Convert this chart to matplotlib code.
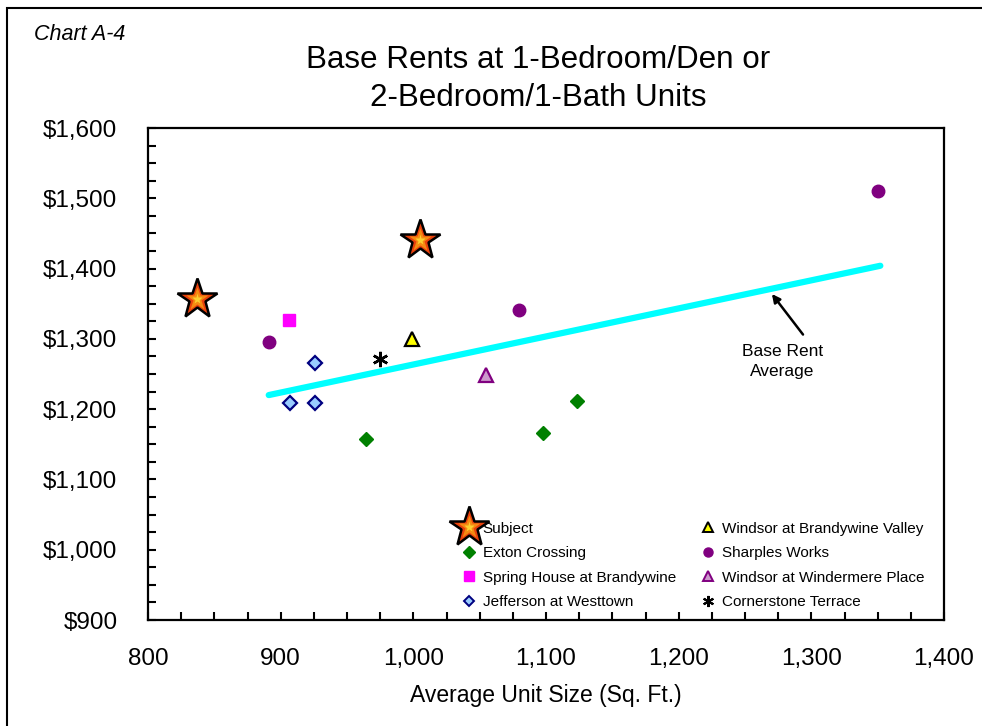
import matplotlib
matplotlib.use('Agg')
import matplotlib.pyplot as plt
from matplotlib.lines import Line2D
from matplotlib.patches import Rectangle
from matplotlib.legend_handler import HandlerTuple
from matplotlib.ticker import MultipleLocator, FuncFormatter

plt.rcParams['font.family'] = ['Liberation Sans', 'DejaVu Sans']

# data
subject_x = [837, 1005]
subject_y = [1357, 1440]

exton_x = [964, 1098, 1123]
exton_y = [1158, 1166, 1212]

spring_x = [906]
spring_y = [1327]

jefferson_x = [926, 907, 926]
jefferson_y = [1265, 1209, 1209]

windsor_bv_x = [999]
windsor_bv_y = [1300]

sharples_x = [891, 1080, 1350]
sharples_y = [1296, 1341, 1511]

windsor_wp_x = [1055]
windsor_wp_y = [1249]

cornerstone_x = [975]
cornerstone_y = [1271]

avg_line_x = [891, 1352]
avg_line_y = [1220, 1404]

xlim = (800, 1400)
ylim = (900, 1600)

fig = plt.figure(figsize=(9.82, 7.26), dpi=100)
W, H = 982, 726

# outer border of the chart area
fig.patches.append(Rectangle((7 / W, -0.01), 1.02, 1 - 8 / H + 0.01,
                             transform=fig.transFigure, fill=False,
                             edgecolor='black', linewidth=1.5))

ax = fig.add_axes([148 / W, 1 - 620 / H, (944 - 148) / W, (620 - 128) / H])

# trend line
ax.plot(avg_line_x, avg_line_y, color='#00ffff', linewidth=4.5,
        solid_capstyle='round', zorder=2)

# subject stars, layered to mimic the gradient fill
s1, = ax.plot(subject_x, subject_y, ls='none', marker='*', ms=30,
              mfc='#e8400c', mec='black', mew=1.8, zorder=5)
s2, = ax.plot(subject_x, subject_y, ls='none', marker='*', ms=17,
              mfc='#f58a12', mec='none', zorder=6)
s3, = ax.plot(subject_x, subject_y, ls='none', marker='*', ms=8,
              mfc='#fbd030', mec='none', zorder=7)

ax.plot(exton_x, exton_y, ls='none', marker='D', ms=7.5,
        mfc='#008000', mec='#008000', zorder=4)
ax.plot(spring_x, spring_y, ls='none', marker='s', ms=8.5,
        mfc='#ff00ff', mec='#ff00ff', zorder=4)
ax.plot(jefferson_x, jefferson_y, ls='none', marker='D', ms=7,
        mfc='#99ccff', mec='#000080', mew=1.6, zorder=4)
ax.plot(windsor_bv_x, windsor_bv_y, ls='none', marker='^', ms=10,
        mfc='#ffff00', mec='black', mew=1.6, zorder=4)
ax.plot(sharples_x, sharples_y, ls='none', marker='o', ms=9,
        mfc='#800080', mec='#800080', zorder=4)
ax.plot(windsor_wp_x, windsor_wp_y, ls='none', marker='^', ms=10,
        mfc='#cc99cc', mec='#800080', mew=1.6, zorder=4)
ax.plot(cornerstone_x, cornerstone_y, ls='none', marker=(6, 2, 0), ms=11,
        mec='black', mew=1.8, zorder=4)

ax.set_xlim(*xlim)
ax.set_ylim(*ylim)
ax.xaxis.set_major_locator(MultipleLocator(100))
ax.xaxis.set_minor_locator(MultipleLocator(25))
ax.yaxis.set_major_locator(MultipleLocator(100))
ax.yaxis.set_minor_locator(MultipleLocator(25))
ax.xaxis.set_major_formatter(FuncFormatter(lambda v, p: f'{int(v):,}'))
ax.yaxis.set_major_formatter(FuncFormatter(lambda v, p: f'${int(v):,}'))
ax.tick_params(which='both', direction='in', length=6, width=1.5,
               top=False, right=False)
ax.tick_params(axis='x', which='major', labelsize=17.5, pad=20)
ax.tick_params(axis='y', which='major', labelsize=17.5, pad=22)
for sp in ax.spines.values():
    sp.set_linewidth(1.6)

ax.set_xlabel('Average Unit Size (Sq. Ft.)', fontsize=16.5, labelpad=10)

# annotation for the trend line
ax.annotate('', xy=(1269, 1367), xytext=(1295, 1303),
            arrowprops=dict(arrowstyle='-|>', color='black', lw=1.8,
                            mutation_scale=12))
ax.text(1278, 1268, 'Base Rent\nAverage', ha='center', va='center',
        fontsize=12.5, linespacing=1.45)

# legend
handles = [
    (s1, s2, s3),
    Line2D([], [], ls='none', marker='D', ms=6, mfc='#008000', mec='#008000'),
    Line2D([], [], ls='none', marker='s', ms=6.5, mfc='#ff00ff', mec='#ff00ff'),
    Line2D([], [], ls='none', marker='D', ms=5, mfc='#99ccff', mec='#000080', mew=1.4),
    Line2D([], [], ls='none', marker='^', ms=7, mfc='#ffff00', mec='black', mew=1.4),
    Line2D([], [], ls='none', marker='o', ms=6.5, mfc='#800080', mec='#800080'),
    Line2D([], [], ls='none', marker='^', ms=7, mfc='#cc99cc', mec='#800080', mew=1.4),
    Line2D([], [], ls='none', marker=(6, 2, 0), ms=8, mec='black', mew=1.5),
]
labels = ['Subject', 'Exton Crossing', 'Spring House at Brandywine',
          'Jefferson at Westtown', 'Windsor at Brandywine Valley',
          'Sharples Works', 'Windsor at Windermere Place',
          'Cornerstone Terrace']
ax.legend(handles, labels, ncol=2, frameon=False, fontsize=11,
          loc='upper left', bbox_to_anchor=(446 / W, 1 - 508 / H),
          bbox_transform=fig.transFigure, handlelength=1.2,
          handletextpad=0.3, columnspacing=1.5, labelspacing=0.68,
          handler_map={tuple: HandlerTuple(ndivide=1)})

fig.text(538 / W, 1 - 60 / H, 'Base Rents at 1-Bedroom/Den or',
         ha='center', va='center', fontsize=22.6)
fig.text(538 / W, 1 - 98 / H, '2-Bedroom/1-Bath Units',
         ha='center', va='center', fontsize=22.6)
fig.text(34 / W, 1 - 35 / H, 'Chart A-4', ha='left', va='center',
         fontsize=15.5, style='italic')

plt.savefig('out.png', dpi=100)
